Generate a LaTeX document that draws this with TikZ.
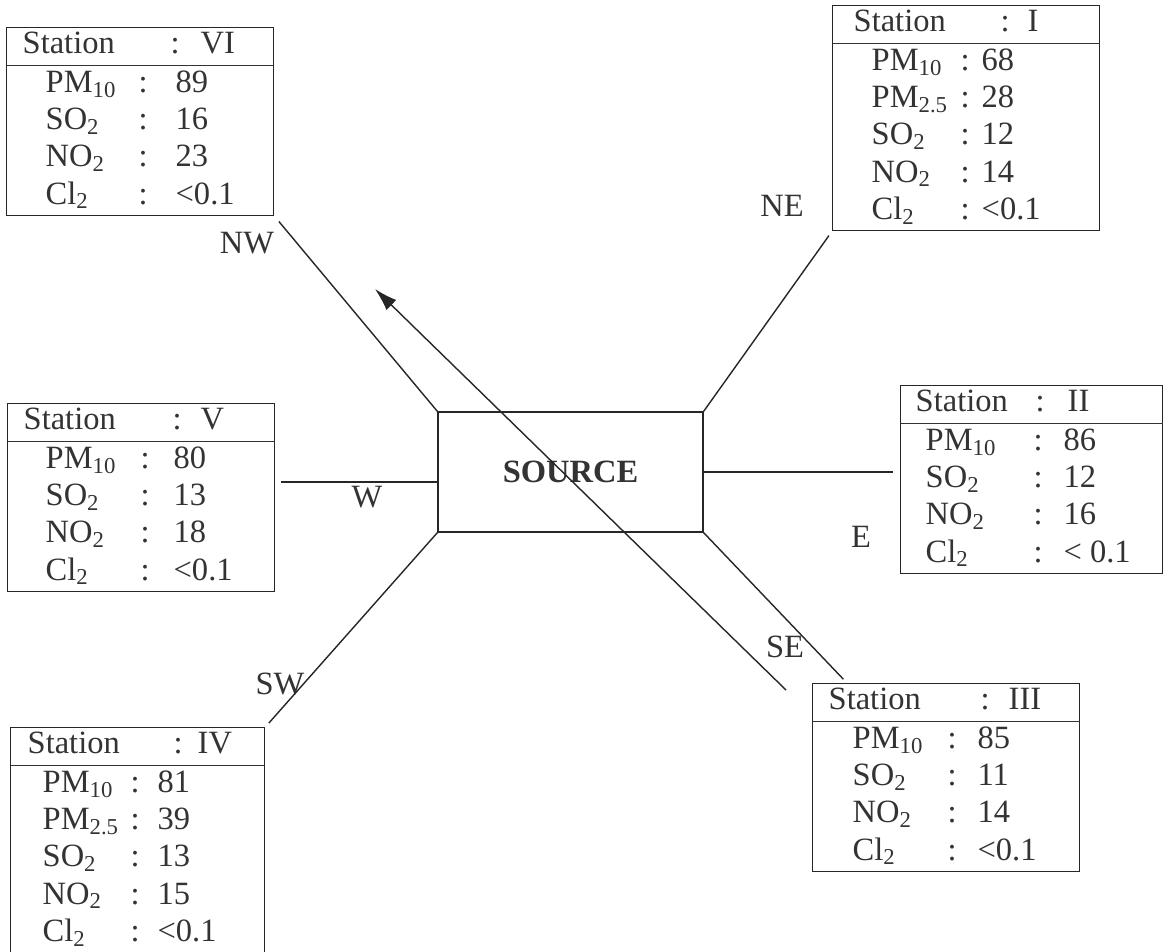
\documentclass[tikz,border=0pt]{standalone}
\usepackage{fontspec}
\setmainfont{Liberation Serif}
\usetikzlibrary{arrows.meta}
\setlength{\arrayrulewidth}{0.8pt}

\tikzset{
	station/.style={draw=black!85, line width=0.8pt, inner sep=0pt, anchor=north west, text=black!80, font=\fontsize{18.5}{21.2}\selectfont},
	dirlabel/.style={text=black!80, font=\fontsize{18.5}{21.2}\selectfont},
	ray/.style={draw=black!85, line width=0.8pt},
}
% header row of a station table: lead, width before colon, gap, numeral
\newcommand{\stnhead}[4]{\multicolumn{3}{@{\hspace{#1}}l@{}}{\makebox[#2][l]{Station}:\hspace{#3}#4}}

\begin{document}
\begin{tikzpicture}[x=0.02cm, y=-0.02cm]
			\useasboundingbox (0,0) rectangle (1163,951);
			% Source
			\node[draw=black!85, line width=0.8pt, minimum width=5.3cm, minimum height=2.4cm, text=black!80, font=\fontsize{18.5}{21.2}\selectfont\bfseries] (src) at (570.5,472) {\raisebox{-0.12cm}{SOURCE}};
			% Stations
			\node[station] (vi) at (6,27) {\begin{tabular}{@{\hspace{0.78cm}}p{1.86cm}@{}p{0.74cm}@{}p{1.96cm}@{}}
				\stnhead{0.32cm}{2.96cm}{0.42cm}{VI}\\ \hline
				PM\textsubscript{10} & : & 89\\
				SO\textsubscript{2} & : & 16\\
				NO\textsubscript{2} & : & 23\\
				Cl\textsubscript{2} & : & <0.1
			\end{tabular}};
			\node[station] (i) at (832,5) {\begin{tabular}{@{\hspace{0.78cm}}p{1.78cm}@{}p{0.42cm}@{}p{2.36cm}@{}}
				\stnhead{0.42cm}{2.94cm}{0.36cm}{I}\\ \hline
				PM\textsubscript{10} & : & 68\\
				PM\textsubscript{2.5} & : & 28\\
				SO\textsubscript{2} & : & 12\\
				NO\textsubscript{2} & : & 14\\
				Cl\textsubscript{2} & : & <0.1
			\end{tabular}};
			\node[station] (ii) at (900,385) {\begin{tabular}{@{\hspace{0.5cm}}p{2.16cm}@{}p{0.6cm}@{}p{1.98cm}@{}}
				\stnhead{0.3cm}{2.4cm}{0.46cm}{II}\\ \hline
				PM\textsubscript{10} & : & 86\\
				SO\textsubscript{2} & : & 12\\
				NO\textsubscript{2} & : & 16\\
				Cl\textsubscript{2} & : & < 0.1
			\end{tabular}};
			\node[station] (iii) at (812,683) {\begin{tabular}{@{\hspace{0.8cm}}p{1.9cm}@{}p{0.6cm}@{}p{2.04cm}@{}}
				\stnhead{0.32cm}{3.04cm}{0.38cm}{III}\\ \hline
				PM\textsubscript{10} & : & 85\\
				SO\textsubscript{2} & : & 11\\
				NO\textsubscript{2} & : & 14\\
				Cl\textsubscript{2} & : & <0.1
			\end{tabular}};
			\node[station] (iv) at (10,727) {\begin{tabular}{@{\hspace{0.64cm}}p{1.76cm}@{}p{0.54cm}@{}p{2.14cm}@{}}
				\stnhead{0.34cm}{2.92cm}{0.3cm}{IV}\\ \hline
				PM\textsubscript{10} & : & 81\\
				PM\textsubscript{2.5} & : & 39\\
				SO\textsubscript{2} & : & 13\\
				NO\textsubscript{2} & : & 15\\
				Cl\textsubscript{2} & : & <0.1
			\end{tabular}};
			\node[station] (v) at (7,403) {\begin{tabular}{@{\hspace{0.76cm}}p{1.9cm}@{}p{0.66cm}@{}p{2.02cm}@{}}
				\stnhead{0.32cm}{2.98cm}{0.38cm}{V}\\ \hline
				PM\textsubscript{10} & : & 80\\
				SO\textsubscript{2} & : & 13\\
				NO\textsubscript{2} & : & 18\\
				Cl\textsubscript{2} & : & <0.1
			\end{tabular}};
			% Directions
			\node[dirlabel] (lnw) at (247,243) {NW};
			\node[dirlabel] (lne) at (782,206) {NE};
			\node[dirlabel] (le) at (861,537) {E};
			\node[dirlabel] (lse) at (785,647) {SE};
			\node[dirlabel] (lsw) at (280,684) {SW};
			\node[dirlabel] (lw) at (367,497) {W};
			\draw[ray, shorten >=4pt] (src.north west) -- (vi.south east);
			\draw[ray, shorten >=3pt] (src.north east) -- (i.south west);
			\draw[ray, shorten >=4pt] (src.east) -- (src.east -| ii.west);
			\draw[ray, shorten >=3pt] ([yshift=-0.2cm]src.west) -- ([yshift=-0.2cm]src.west -| v.east);
			\draw[ray, shorten >=3pt] (src.south west) -- (iv.north east);
			\draw[ray, shorten >=3pt] (src.south east) -- ([xshift=0.7cm]iii.north west);
			% Wind
			\coordinate (windtail) at (786,690);
			\coordinate (windhead) at (375,289);
			\draw[ray, -{Latex[length=13pt, width=8pt]}] (windtail) -- (windhead);
		\end{tikzpicture}
\end{document}
